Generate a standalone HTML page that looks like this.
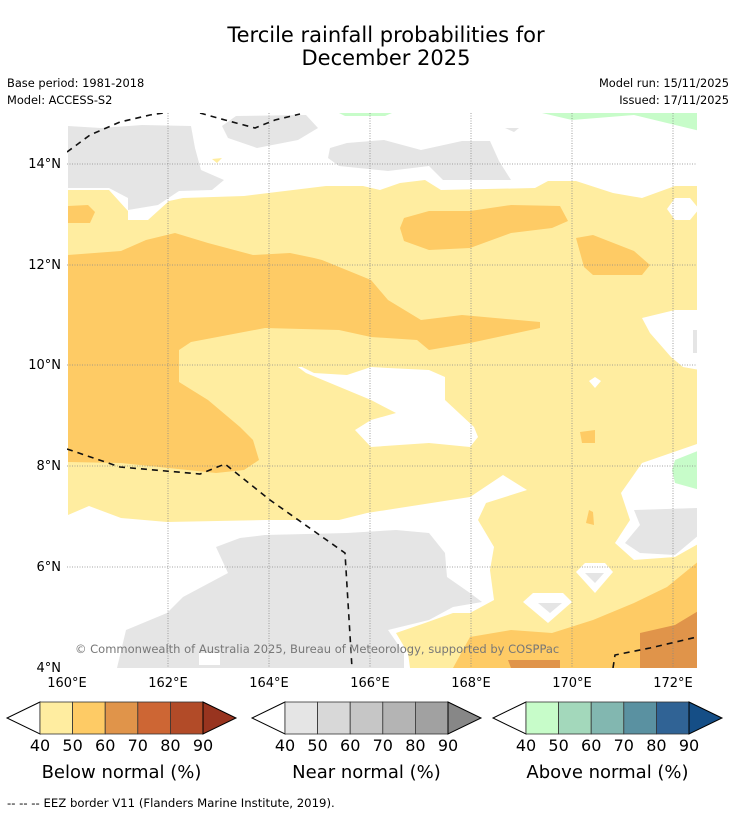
<!DOCTYPE html>
<html><head><meta charset="utf-8"><style>
body{margin:0;background:#fff;width:736px;height:816px;overflow:hidden;font-family:"DejaVu Sans","Liberation Sans",sans-serif}
</style></head><body>
<svg id="fig" width="736" height="816" xmlns="http://www.w3.org/2000/svg" font-family="DejaVu Sans, Liberation Sans, sans-serif">
<text x="386" y="42" font-size="21" text-anchor="middle">Tercile rainfall probabilities for</text>
<text x="386" y="65" font-size="21" text-anchor="middle">December 2025</text>
<text x="7" y="87" font-size="11.4">Base period: 1981-2018</text>
<text x="7" y="104" font-size="11.4">Model: ACCESS-S2</text>
<text x="729" y="87" font-size="11.4" text-anchor="end">Model run: 15/11/2025</text>
<text x="729" y="104" font-size="11.4" text-anchor="end">Issued: 17/11/2025</text>
<defs><clipPath id="mc"><rect x="67" y="113" width="630" height="555"/></clipPath></defs>
<g clip-path="url(#mc)">
<rect x="67" y="113" width="630" height="555" fill="#fff"/>
<polygon fill="#ffeda0" points="68,190 109,190 128,211 128,220 148,220 169,201 183,198 244,196 326,186 363,186 380,190 400,183 425,180 441,190 535,188 548,181 576,181 613,193 642,198 675,186 700,186 700,668 410,668 408,653 396,633 425,623 453,613 470,613 494,600 490,570 494,547 478,520 486,503 527,490 503,475 470,497 367,513 339,520 265,520 167,522 121,518 89,506 68,515"/>
<polygon fill="#fff" points="700,443 642,463 621,493 630,520 615,543 634,560 675,557 700,543"/>
<polygon fill="#c7fcc9" points="675,460 700,450 700,490 675,483 672,470"/>
<polygon fill="#e5e5e5" points="634,510 699,508 699,535 675,555 640,553 625,543 640,525"/>
<polygon fill="#fff" points="576,572 585,563 605,563 613,572 595,593"/>
<polygon fill="#e5e5e5" points="585,573 604,573 595,583"/>
<polygon fill="#fff" points="523,602 533,593 563,593 572,602 548,623"/>
<polygon fill="#e5e5e5" points="538,603 562,603 550,613"/>
<polygon fill="#fecb65" points="453,668 470,637 511,630 552,633 593,620 634,603 667,587 700,560 700,668"/>
<polygon fill="#e0944a" points="640,633 675,625 700,610 700,668 640,668"/>
<polygon fill="#e0944a" points="508,660 560,660 560,668 511,668"/>
<polygon fill="#e5e5e5" points="117,668 126,630 167,613 183,597 228,573 216,547 240,538 265,535 347,533 396,530 429,533 445,553 447,577 470,593 482,602 453,607 429,620 388,630 404,653 404,668"/>
<rect x="199" y="653" width="21" height="12" fill="#fff"/>
<polygon fill="#fecb65" points="68,255 121,251 146,240 175,233 208,243 253,255 290,253 314,258 322,260 371,280 388,300 421,320 462,315 540,322 540,328 470,343 429,350 417,340 371,337 339,330 265,328 191,342 179,350 179,382 208,400 240,427 253,440 259,460 244,470 216,473 121,463 68,462"/>
<polygon fill="#fecb65" points="404,218 429,211 470,211 511,205 560,206 568,221 552,228 511,233 470,248 429,250 404,241 400,228"/>
<polygon fill="#fecb65" points="576,238 593,235 634,251 650,265 642,275 593,275 584,267"/>
<polygon fill="#fecb65" points="68,206 88,205 95,212 90,223 68,223"/>
<polygon fill="#fecb65" points="580,432 595,430 595,443 582,443"/>
<polygon fill="#fecb65" points="589,510 593,512 594,525 586,523"/>
<polygon fill="#fff" points="298,367 306,373 371,400 396,413 371,420 355,430 371,447 429,443 470,447 478,437 474,427 445,400 445,377 429,370 388,368 371,367 347,375 314,373 302,367"/>
<polygon fill="#fff" points="642,318 675,310 700,310 700,370 683,367 671,357 650,333"/>
<rect x="693" y="330" width="7" height="23" fill="#e5e5e5"/>
<polygon fill="#fff" points="589,381 595,377 601,381 595,388"/>
<polygon fill="#fff" points="667,209 675,198 690,198 699,209 690,220 675,220"/>
<polygon fill="#e5e5e5" points="68,126 101,128 142,125 191,126 195,148 201,170 224,180 212,190 179,191 158,205 128,210 128,198 109,188 68,188"/>
<polygon fill="#e5e5e5" points="222,126 236,116 306,115 318,128 298,140 257,148 228,138"/>
<polygon fill="#e5e5e5" points="330,148 347,143 384,140 421,150 462,141 490,141 499,161 511,180 443,180 429,166 388,171 339,166 328,158"/>
<polygon fill="#e5e5e5" points="505,128 519,128 514,132"/>
<polygon fill="#c7fcc9" points="339,113 392,113 385,116 345,116"/>
<polygon fill="#c7fcc9" points="542,113 700,113 700,131 634,115 572,120"/>
<polygon fill="#ffeda0" points="212,159 222,158 217,163"/>
<g stroke="#888" stroke-width="0.8" stroke-dasharray="1,1.5" fill="none">
<line x1="168" y1="113" x2="168" y2="668"/><line x1="269" y1="113" x2="269" y2="668"/><line x1="370" y1="113" x2="370" y2="668"/><line x1="471" y1="113" x2="471" y2="668"/><line x1="572" y1="113" x2="572" y2="668"/><line x1="673" y1="113" x2="673" y2="668"/>
<line x1="67" y1="164" x2="697" y2="164"/><line x1="67" y1="265" x2="697" y2="265"/><line x1="67" y1="365" x2="697" y2="365"/><line x1="67" y1="466" x2="697" y2="466"/><line x1="67" y1="567" x2="697" y2="567"/>
</g>
<g stroke="#111" stroke-width="1.6" stroke-dasharray="6,5" fill="none">
<polyline points="67,152 90,135 120,122 150,115 170,112"/>
<polyline points="200,113 225,120 255,128 275,120 300,114"/>
<polyline points="67,449 120,467 200,474 225,464 270,500 345,553 352,668"/>
<polyline points="613,668 615,655 650,648 697,637"/>
</g>
<text x="75" y="653" font-size="11.5" fill="#777">© Commonwealth of Australia 2025, Bureau of Meteorology, supported by COSPPac</text>
</g>
<g font-size="13">
<text x="67" y="687" text-anchor="middle">160°E</text><text x="168" y="687" text-anchor="middle">162°E</text><text x="269" y="687" text-anchor="middle">164°E</text><text x="370" y="687" text-anchor="middle">166°E</text><text x="471" y="687" text-anchor="middle">168°E</text><text x="572" y="687" text-anchor="middle">170°E</text><text x="673" y="687" text-anchor="middle">172°E</text>
<text x="61" y="168" text-anchor="end">14°N</text><text x="61" y="269" text-anchor="end">12°N</text><text x="61" y="369" text-anchor="end">10°N</text><text x="61" y="470" text-anchor="end">8°N</text><text x="61" y="571" text-anchor="end">6°N</text><text x="61" y="672" text-anchor="end">4°N</text>
</g>
<g id="bars"></g>
<text x="7" y="807" font-size="11.7">--  --  -- EEZ border V11 (Flanders Marine Institute, 2019).</text>
</svg>
<script>
const levels=[40,50,60,70,80,90];
const belowColors=["#ffeda0","#fecb65","#e0944a","#cd6634","#b24b28","#98341f"];
const nearColors=["#e5e5e5","#d8d8d8","#c6c6c6","#b4b4b4","#a1a1a1","#878787"];
const aboveColors=["#c7fcc9","#a3d8bb","#82b7b0","#5a91a1","#306395","#154e86"];
const barTitles=["Below normal (%)","Near normal (%)","Above normal (%)"];
const barStarts=[40,285,526];
const NS="http://www.w3.org/2000/svg";
const g=document.getElementById('bars');
function mk(t,a){const e=document.createElementNS(NS,t);for(const k in a)e.setAttribute(k,a[k]);return e;}
[belowColors,nearColors,aboveColors].forEach((cols,i)=>{
  const x0=barStarts[i],w=163/(levels.length-1),y0=702,h=32;
  const grp=mk('g',{});
  
  
  const lt=mk('polygon',{points:`${x0},${y0} ${x0-33},${y0+h/2} ${x0},${y0+h}`,fill:'#fff',stroke:'#000','stroke-width':1});
  grp.appendChild(lt);
  for(let k=0;k<levels.length-1;k++){
    const r=mk('rect',{x:x0+k*w,y:y0,width:w,height:h,fill:cols[k],stroke:'#333','stroke-width':0.8});
    grp.appendChild(r);
  }
  const xe=x0+163;
  const rt=mk('polygon',{points:`${xe},${y0} ${xe+33},${y0+h/2} ${xe},${y0+h}`,fill:cols[5],stroke:'#000','stroke-width':1});
  grp.appendChild(rt);
  levels.forEach((v,k)=>{const t=mk('text',{x:x0+k*w,y:751,'font-size':16,'text-anchor':'middle'});t.textContent=v;
    grp.appendChild(t);});
  const tt=mk('text',{x:x0+81.5,y:778,'font-size':18,'text-anchor':'middle'});tt.textContent=barTitles[i];
  grp.appendChild(tt);
  g.appendChild(grp);
});
</script>
</body></html>
